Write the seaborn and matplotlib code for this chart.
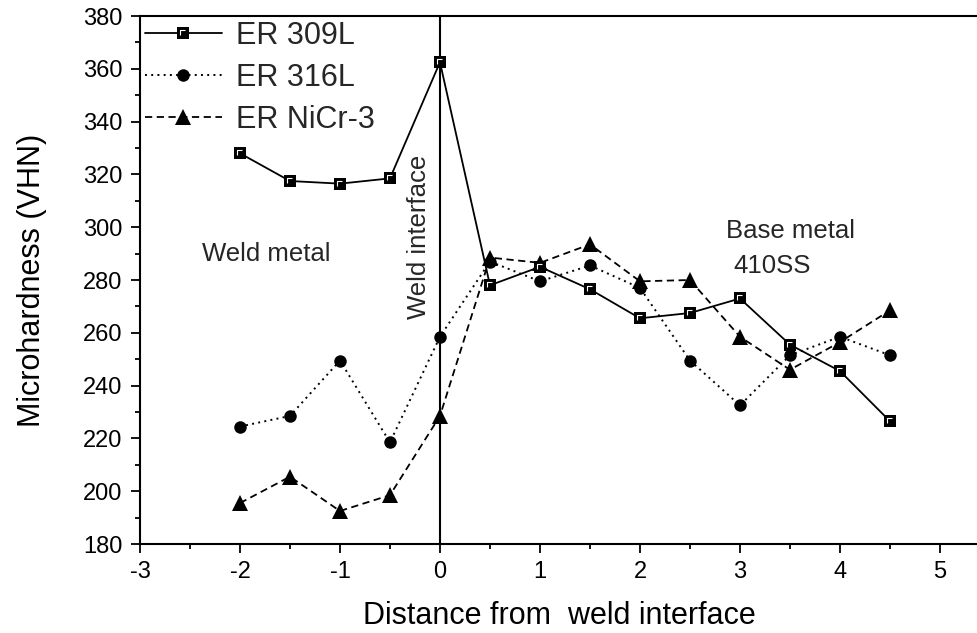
import numpy as np
import pandas as pd
import matplotlib
matplotlib.use("Agg")
import matplotlib.pyplot as plt
from matplotlib.path import Path
from matplotlib.legend_handler import HandlerTuple
from matplotlib.ticker import MultipleLocator
import seaborn as sns

sns.set_theme(style="white")
plt.rcParams['font.family'] = ['Liberation Sans', 'DejaVu Sans']
plt.rcParams['axes.unicode_minus'] = False

# distance from weld interface (mm)
distance = [-2, -1.5, -1, -0.5, 0, 0.5, 1, 1.5, 2, 2.5, 3, 3.5, 4, 4.5]

# microhardness (VHN) per filler
er_309l = [328, 317.5, 316.5, 318.5, 362.5, 278, 285, 276.5, 265.5, 267.5, 273, 255.5, 245.5, 226.5]
er_316l = [224.5, 228.5, 249.5, 218.5, 258.5, 287, 279.5, 285.5, 277, 249.5, 232.5, 251.5, 258.5, 251.5]
er_nicr3 = [195.5, 205.5, 192.5, 198.5, 228.5, 288.5, 286.5, 293.5, 279.5, 280, 258.5, 246, 256.5, 268.5]

labels = ["ER 309L", "ER 316L", "ER NiCr-3"]

df = pd.DataFrame({"distance": distance, "ER 309L": er_309l,
                   "ER 316L": er_316l, "ER NiCr-3": er_nicr3})

fig = plt.figure(figsize=(9.78, 6.33), dpi=100)
ax = fig.add_axes([0.1431, 0.1406, 0.8569, 0.8341])

ax.axvline(0, color="black", lw=1.5, zorder=1)

# origin style square: black with a thin white corner inside
corner = Path([(-1, -0.5), (-1, 1), (0.5, 1)],
              [Path.MOVETO, Path.LINETO, Path.LINETO])

sns.lineplot(data=df, x="distance", y="ER 309L", ax=ax, color="black", lw=1.3,
             linestyle="-", marker="s", markersize=8.5, markeredgewidth=0,
             markerfacecolor="black", errorbar=None, zorder=3)
sns.lineplot(data=df, x="distance", y="ER 316L", ax=ax, color="black", lw=1.4,
             linestyle=(0, (1, 2.2)), marker="o", markersize=9, markeredgewidth=0,
             errorbar=None, zorder=3)
sns.lineplot(data=df, x="distance", y="ER NiCr-3", ax=ax, color="black", lw=1.3,
             linestyle=(0, (4, 2.5)), marker="^", markersize=11, markeredgewidth=0,
             errorbar=None, zorder=3)
lines = ax.get_lines()[1:]
overlay, = ax.plot(df["distance"], df["ER 309L"], linestyle="none", marker=corner,
                   markersize=4.6, markerfacecolor="none", markeredgecolor="white",
                   markeredgewidth=0.8, zorder=4)

handles = [(lines[0], overlay), lines[1], lines[2]]
ax.legend(handles, labels, handler_map={tuple: HandlerTuple(ndivide=1)},
          loc="upper left", bbox_to_anchor=(0.0, 1.0), frameon=False,
          fontsize=22, handlelength=2.55, handletextpad=0.45,
          labelspacing=0.4, borderpad=0.05, borderaxespad=0.1)

ax.set_xlim(-3, 5.38)
ax.set_ylim(180, 380)
ax.xaxis.set_major_locator(MultipleLocator(1))
ax.xaxis.set_minor_locator(MultipleLocator(0.5))
ax.yaxis.set_major_locator(MultipleLocator(20))
ax.yaxis.set_minor_locator(MultipleLocator(10))
ax.tick_params(which="major", direction="out", length=6.5, width=1.3,
               labelsize=17, pad=6, color="black", labelcolor="black",
               bottom=True, left=True)
ax.tick_params(which="minor", direction="out", length=3.8, width=1.3,
               bottom=True, left=True, color="black")

for side in ["left", "bottom", "top"]:
    ax.spines[side].set_color("black")
    ax.spines[side].set_linewidth(1.5)
ax.spines["right"].set_visible(False)

ax.set_xlabel("Distance from  weld interface", fontsize=22, labelpad=13, color="black")
ax.set_ylabel("Microhardness (VHN)", fontsize=22, labelpad=26, color="black")

ax.text(-2.38, 287.2, "Weld metal", fontsize=18.5, ha="left", va="baseline")
ax.text(2.86, 295.9, "Base metal", fontsize=18.5, ha="left", va="baseline")
ax.text(2.93, 282.7, "410SS", fontsize=18.5, ha="left", va="baseline")
ax.text(-0.21, 265.2, "Weld interface", fontsize=18.5, rotation=90,
        ha="center", va="bottom")

fig.savefig("out.png", dpi=100)
